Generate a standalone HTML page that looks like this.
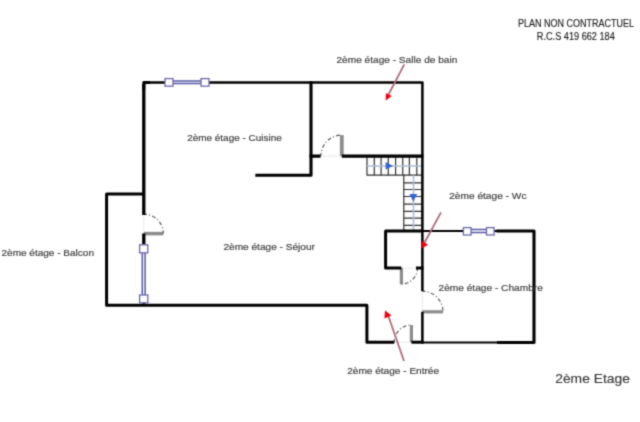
<!DOCTYPE html>
<html>
<head>
<meta charset="utf-8">
<style>
html,body{margin:0;padding:0;background:#fff;width:640px;height:422px;overflow:hidden;}
svg{display:block;}
text{font-family:"Liberation Sans",sans-serif;}
.lbl{font-size:9.8px;fill:#444;stroke:#444;stroke-width:0.2px;}
.hdr{font-size:10px;fill:#1e1e1e;stroke:#1e1e1e;stroke-width:0.15px;}
</style>
</head>
<body>
<svg width="640" height="422" viewBox="0 0 640 422">
<defs><filter id="bl" filterUnits="userSpaceOnUse" x="0" y="0" width="640" height="422" color-interpolation-filters="sRGB"><feConvolveMatrix order="3" kernelMatrix="0.02890 0.11220 0.02890 0.11220 0.43560 0.11220 0.02890 0.11220 0.02890" divisor="1" edgeMode="duplicate"/></filter></defs>
<g filter="url(#bl)">
<rect x="0" y="0" width="640" height="422" fill="#fff"/>

<!-- stairs -->
<g stroke="#333" stroke-width="1.2" fill="none">
  <path d="M367 157.5V175.2H403.8V231"/>
  <path d="M374.30 157.5V175.3M381.10 157.5V175.3M388.25 157.5V175.3M395.60 157.5V175.3M402.75 157.5V175.3M409.40 157.5V175.3M416.80 157.5V175.3"/>
  <path d="M403.8 175.2H422M403.8 182.8H422M403.8 189.5H422M403.8 196.5H422M403.8 204.2H422M403.8 211.4H422M403.8 218.2H422M403.8 225.4H422"/>
</g>
<g stroke="#b0bcd2" stroke-width="1.6" fill="none">
  <path d="M367 166H422M413.5 175.3V231"/>
</g>
<path d="M385.6 162.1L393 165.9L385.6 169.6Z" fill="#3464d4"/>
<path d="M409.4 193.9L417.2 193.9L413.3 201.5Z" fill="#3464d4"/>

<!-- doors: leaves -->
<g stroke="#8c8c8c" fill="none">
  <path stroke-width="3.5" d="M143.8 233.6H163.3"/>
  <path stroke-width="3.8" d="M341.8 135.1V156.1"/>
  <path stroke-width="3.2" d="M401.4 268.1V284.3"/>
  <path stroke-width="3.2" d="M422.4 311.8H443"/>
  <path stroke-width="3.2" d="M411.4 325V342.2"/>
</g>
<!-- door arcs -->
<g stroke="#555" stroke-width="1.15" fill="none" stroke-dasharray="3.8 2.2 1 2.2" stroke-dashoffset="0.6">
  <path d="M143.8 214.1A19.5 19.5 0 0 1 163.3 233.6"/>
  <path d="M320.8 156.1A21 21 0 0 1 341.8 135.1"/>
  <path d="M417.4 268.1A16 16 0 0 1 401.4 284.1"/>
  <path d="M422.4 291.2A20.6 20.6 0 0 1 443 311.8"/>
  <path d="M394.2 342.2A17.2 17.2 0 0 1 411.4 325"/>
</g>
<!-- thresholds -->
<g stroke="#e8e8e8" stroke-width="1" fill="none">
  <path d="M143.8 215.5V232"/>
  <path d="M322 156.1H340"/>
  <path d="M403 268.1H416"/>
  <path d="M422.4 292.5V310"/>
  <path d="M395.5 342.2H409.8"/>
</g>

<!-- walls -->
<g stroke="#000" fill="none" stroke-linejoin="round">
  <path stroke-width="2.5" d="M143.8 82.5H165M209 82.5H412"/>
  <path stroke-width="3.3" d="M143.8 84V215M143.8 233.6V244.5"/>
  <path stroke-width="2.9" d="M150 82.5H143.8V90"/>
  <path stroke-width="2.6" d="M143.8 302.8V305"/>
  <path stroke-width="3" d="M143.8 193.9H106.6V305.2H366.9V342.2H394.3"/>
  <path stroke-width="3" d="M411.4 342.2H423.4"/>
  <path stroke-width="3.1" d="M255.3 175.3H311V81.3"/>
  <path stroke-width="3.4" d="M309.5 156.1H320.6M341.8 156.1H423.5"/>
  <path stroke-width="2.5" d="M412 82.5H422.4V291.3M422.4 311.8V343.5"/>
  <path stroke-width="3" d="M422.4 231H385.6V268.1H401.4M416 268.1H423.5"/>
  <path stroke-width="3.1" d="M496.3 231H534V342.5H497"/>
  <path stroke-width="2" d="M422.4 231H463M494 231H497M422.4 342.5H498"/>
</g>

<!-- windows -->
<g stroke="#5858a8" stroke-width="1.5" fill="none">
  <path d="M173 80.9H201M173 83.4H201"/>
  <path d="M142.3 252.5V295.5M145.1 252.5V295.5"/>
  <path d="M470.5 229.6H486.5M470.5 232.4H486.5"/>
</g>
<g stroke="#6a6aa8" stroke-width="1.3" fill="#fff">
  <rect x="165" y="78.6" width="8" height="7.6"/>
  <rect x="201" y="78.6" width="8" height="7.6"/>
  <rect x="139.6" y="244.8" width="8.2" height="8"/>
  <rect x="139.6" y="295" width="8.2" height="7.8"/>
  <rect x="463.4" y="227.6" width="7.6" height="7.4"/>
  <rect x="486.5" y="227.6" width="7.6" height="7.4"/>
</g>

<!-- red arrows -->
<g stroke="#b06a78" stroke-width="1.8" fill="none">
  <path d="M404.3 64.3L388.5 94.5"/>
  <path d="M441 212.4L424.3 243"/>
  <path d="M404 361L388 315"/>
</g>
<g fill="#f00010">
  <path d="M385.6 100.4L385.9 92.9L391.9 95.9Z"/>
  <path d="M421.5 248.6L421.7 240.9L428.2 244.8Z"/>
  <path d="M385 310.4L391.5 315.6L384.4 318.5Z"/>
</g>

<!-- labels -->
<text class="hdr" x="518" y="26.7" textLength="115.9" lengthAdjust="spacingAndGlyphs">PLAN NON CONTRACTUEL</text>
<text class="hdr" x="536.8" y="39.5" textLength="78" lengthAdjust="spacingAndGlyphs">R.C.S 419 662 184</text>
<text class="lbl" x="336.5" y="62.6" textLength="120.8" lengthAdjust="spacingAndGlyphs">2ème étage - Salle de bain</text>
<text class="lbl" x="187.2" y="140.6" textLength="94.5" lengthAdjust="spacingAndGlyphs">2ème étage - Cuisine</text>
<text class="lbl" x="449.2" y="198.5" textLength="77.3" lengthAdjust="spacingAndGlyphs">2ème étage - Wc</text>
<text class="lbl" x="223.4" y="249.9" textLength="91.6" lengthAdjust="spacingAndGlyphs">2ème étage - Séjour</text>
<text class="lbl" x="1.5" y="255.7" textLength="92.5" lengthAdjust="spacingAndGlyphs">2ème étage - Balcon</text>
<text class="lbl" x="438.5" y="291.2" textLength="104.3" lengthAdjust="spacingAndGlyphs">2ème étage - Chambre</text>
<text class="lbl" x="347.2" y="374.3" textLength="91.9" lengthAdjust="spacingAndGlyphs">2ème étage - Entrée</text>
<text style="font-size:12.8px;fill:#3a3a3a;stroke:#3a3a3a;stroke-width:0.15px" x="555.2" y="383.3" textLength="74.8" lengthAdjust="spacingAndGlyphs">2ème Etage</text>
</g>
</svg>
</body>
</html>
